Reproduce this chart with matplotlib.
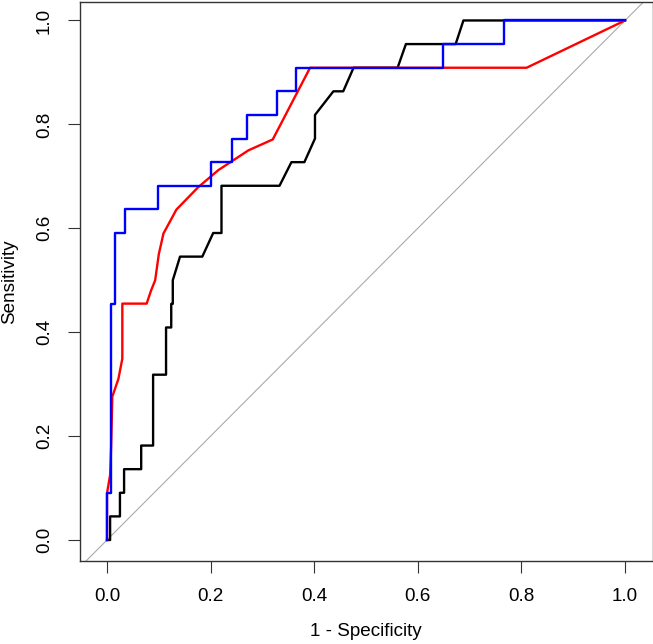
import matplotlib
matplotlib.use("Agg")
from matplotlib import pyplot as plt

plt.rcParams['font.family'] = ['Liberation Sans', 'DejaVu Sans']

n = 22.0  # sensitivity steps

# black curve
black_fpr = [0, 0.006, 0.006, 0.025, 0.025, 0.033, 0.033, 0.066, 0.066, 0.089, 0.089,
             0.114, 0.114, 0.124, 0.124, 0.127, 0.127, 0.141, 0.184, 0.205, 0.221, 0.221,
             0.333, 0.356, 0.381, 0.4015, 0.4015, 0.437, 0.456, 0.476, 0.561, 0.577,
             0.673, 0.688, 1.0]
black_tpr = [0, 0, 1, 1, 2, 2, 3, 3, 4, 4, 7, 7, 9, 9, 10, 10, 11, 12, 12, 13, 13, 15,
             15, 16, 16, 17, 18, 19, 19, 20, 20, 21, 21, 22, 22]

# red curve
red_fpr = [0, 0, 0.006, 0.008, 0.0103, 0.022, 0.0296, 0.0296, 0.0766, 0.085, 0.093,
           0.100, 0.109, 0.134, 0.176, 0.215, 0.241, 0.273, 0.320, 0.392, 0.649, 0.81, 1.0]
red_tpr = [0, 0.09, 0.125, 0.18, 0.276, 0.31, 0.349, 0.455, 0.455, 0.48, 0.5,
           0.55, 0.59, 0.636, 0.679, 0.712, 0.729, 0.75, 0.771, 0.909, 0.909, 0.909, 1.0]

# blue curve
blue_fpr = [0, 0, 0.0077, 0.0077, 0.0154, 0.0154, 0.035, 0.035, 0.099, 0.099, 0.2, 0.2,
            0.241, 0.241, 0.27, 0.27, 0.329, 0.329, 0.365, 0.365, 0.649, 0.649, 0.766,
            0.766, 1.0]
blue_tpr = [0, 2, 2, 10, 10, 13, 13, 14, 14, 15, 15, 16, 16, 17, 17, 18, 18, 19, 19, 20,
            20, 21, 21, 22, 22]

ticks = [0.0, 0.2, 0.4, 0.6, 0.8, 1.0]

fig = plt.figure(figsize=(6.53, 6.44), dpi=100)
ax = fig.add_axes([80 / 653, 83 / 644, 572.5 / 653, 559.5 / 644])

ax.plot([-0.1, 1.1], [-0.1, 1.1], color='#aaaaaa', lw=0.8)
ax.plot(black_fpr, [v / n for v in black_tpr], color='black', lw=1.7)
ax.plot(red_fpr, red_tpr, color='#ff0000', lw=1.7)
ax.plot(blue_fpr, [v / n for v in blue_tpr], color='#0000ff', lw=1.7)

ax.set_xlim(-0.0521, 1.053)
ax.set_ylim(-0.0404, 1.0365)
ax.set_xticks(ticks)
ax.set_yticks(ticks)
ax.set_xticklabels([f"{t:.1f}" for t in ticks], fontsize=13.6)
ax.set_yticklabels([f"{t:.1f}" for t in ticks], fontsize=13.6, rotation=90, va='center')
ax.tick_params(direction='out', length=8.5, width=0.8, color='#333333', pad=11)
for s in ax.spines.values():
    s.set_linewidth(1.0)
    s.set_color('#333333')

ax.set_xlabel("1 - Specificity", fontsize=13.6, labelpad=13)
ax.set_ylabel("Sensitivity", fontsize=13.6, labelpad=13)

fig.savefig("out.png", dpi=100)
